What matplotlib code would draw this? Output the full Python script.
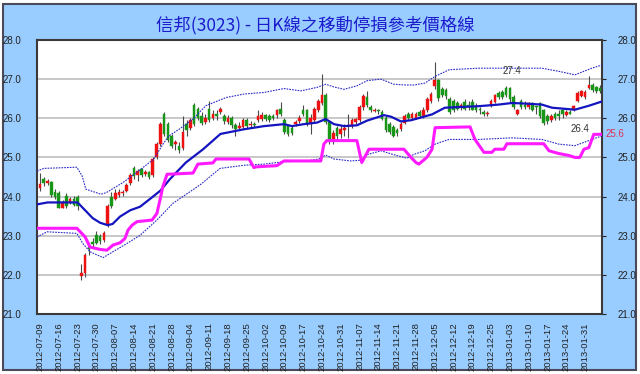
import numpy as np
import matplotlib
matplotlib.use('Agg')
import matplotlib.pyplot as plt
from matplotlib.patches import Rectangle

plt.rcParams['font.family'] = ['Liberation Sans', 'Noto Sans CJK TC', 'DejaVu Sans']

title = '信邦(3023) - 日K線之移動停損參考價格線'

date_labels = [
    '2012-07-09', '2012-07-16', '2012-07-23', '2012-07-30', '2012-08-07',
    '2012-08-14', '2012-08-21', '2012-08-28', '2012-09-04', '2012-09-11',
    '2012-09-18', '2012-09-25', '2012-10-02', '2012-10-09', '2012-10-17',
    '2012-10-24', '2012-10-31', '2012-11-07', '2012-11-14', '2012-11-21',
    '2012-11-28', '2012-12-05', '2012-12-12', '2012-12-19', '2012-12-25',
    '2013-01-03', '2013-01-10', '2013-01-17', '2013-01-24', '2013-01-31',
]

# daily candles (one per trading day, labels every 5 days)
opens = [
    24.22, 24.45, 24.35, 24.38, 24.12, 24.10, 23.72, 24.02, 23.85, 23.95,
    24.00, 21.98, 22.05, 22.72, 22.85, 23.02, 22.98, 22.88, 23.30, 23.98,
    23.95, 24.05, 24.10, 24.15, 24.35, 24.72, 24.55, 24.70, 24.58, 24.62,
    24.55, 25.00, 25.35, 26.10, 25.85, 25.55, 25.35, 25.30, 25.25, 25.85,
    25.75, 26.35, 26.25, 26.05, 25.90, 26.25, 26.00, 26.10, 26.15, 26.05,
    25.90, 26.00, 25.82, 25.75, 25.78, 25.95, 25.82, 25.85, 25.95, 25.98,
    26.08, 26.05, 26.05, 26.08, 26.25, 25.95, 25.80, 25.75, 25.85, 25.92,
    26.20, 26.20, 25.85, 25.95, 26.20, 26.40, 26.60, 25.90, 25.42, 25.75,
    25.60, 25.70, 25.80, 25.80, 25.90, 25.95, 26.30, 26.55, 26.30, 26.18,
    26.20, 26.15, 26.00, 25.85, 25.78, 25.70, 25.72, 25.88, 26.12, 26.00,
    26.02, 26.15, 26.05, 26.20, 26.45, 26.82, 26.98, 26.75, 26.72, 26.50,
    26.45, 26.40, 26.28, 26.42, 26.35, 26.42, 26.30, 26.24, 26.15, 26.12,
    26.32, 26.42, 26.65, 26.68, 26.78, 26.78, 26.55, 26.12, 26.45, 26.35,
    26.30, 26.38, 26.30, 26.40, 26.20, 26.05, 25.95, 26.10, 26.12, 26.20,
    26.08, 26.15, 26.20, 26.45, 26.58, 26.55, 26.78, 26.85, 26.80, 26.78,
]
closes = [
    24.32, 24.35, 24.40, 24.05, 23.98, 23.72, 23.86, 23.75, 23.93, 23.78,
    23.75, 22.05, 22.50, 22.65, 22.78, 22.82, 22.86, 23.08, 23.75, 23.76,
    24.08, 24.12, 24.10, 24.30, 24.55, 24.52, 24.65, 24.55, 24.62, 24.50,
    24.95, 25.35, 25.85, 25.60, 25.45, 25.30, 25.40, 25.18, 25.65, 25.70,
    25.95, 25.85, 26.00, 25.88, 26.02, 25.95, 26.10, 26.05, 26.25, 25.92,
    26.02, 25.82, 25.72, 25.80, 25.95, 25.80, 25.85, 25.84, 26.05, 26.08,
    25.98, 25.95, 26.00, 26.22, 26.12, 25.65, 25.60, 25.62, 25.90, 26.02,
    26.12, 25.85, 26.00, 26.25, 26.45, 26.60, 25.90, 25.45, 25.62, 25.55,
    25.72, 25.75, 25.80, 25.95, 25.98, 26.30, 26.58, 26.35, 26.20, 26.22,
    26.18, 25.98, 25.70, 25.65, 25.55, 25.62, 25.85, 26.05, 26.02, 26.10,
    26.10, 26.05, 26.20, 26.50, 26.62, 26.97, 26.52, 26.60, 26.58, 26.15,
    26.20, 26.25, 26.35, 26.25, 26.28, 26.22, 26.20, 26.20, 26.10, 26.13,
    26.45, 26.60, 26.55, 26.55, 26.60, 26.48, 26.30, 26.20, 26.30, 26.30,
    26.38, 26.22, 26.28, 26.05, 25.88, 25.92, 26.05, 26.00, 26.05, 26.10,
    26.15, 26.12, 26.32, 26.65, 26.70, 26.68, 26.85, 26.72, 26.70, 26.70,
]
highs = [
    24.60, 24.50, 24.45, 24.40, 24.20, 24.15, 23.92, 24.08, 24.00, 24.02,
    24.05, 22.28, 22.55, 22.82, 22.95, 23.12, 23.05, 23.12, 23.80, 24.12,
    24.20, 24.20, 24.18, 24.35, 24.60, 24.78, 24.70, 24.72, 24.68, 24.66,
    25.00, 25.40, 25.90, 26.15, 25.90, 25.60, 25.45, 25.40, 26.05, 25.95,
    26.00, 26.40, 26.30, 26.15, 26.10, 26.45, 26.20, 26.20, 26.30, 26.10,
    26.08, 26.05, 25.88, 25.90, 26.00, 26.00, 25.92, 25.90, 26.20, 26.15,
    26.12, 26.10, 26.12, 26.25, 26.42, 26.00, 25.85, 25.80, 25.95, 26.08,
    26.35, 26.25, 26.10, 26.30, 26.50, 27.12, 26.65, 25.95, 25.70, 25.80,
    25.80, 25.85, 26.10, 26.00, 26.00, 26.35, 26.62, 26.70, 26.35, 26.26,
    26.24, 26.20, 26.05, 25.90, 25.82, 25.75, 25.90, 26.10, 26.15, 26.15,
    26.15, 26.20, 26.30, 26.55, 26.68, 27.45, 27.00, 26.80, 26.78, 26.55,
    26.50, 26.45, 26.40, 26.50, 26.45, 26.48, 26.38, 26.28, 26.20, 26.18,
    26.50, 26.62, 26.70, 26.72, 26.82, 26.80, 26.60, 26.25, 26.50, 26.45,
    26.42, 26.42, 26.32, 26.42, 26.25, 26.10, 26.10, 26.15, 26.20, 26.25,
    26.20, 26.20, 26.35, 26.70, 26.72, 26.72, 27.08, 26.90, 26.82, 26.85,
]
lows = [
    24.15, 24.28, 24.30, 24.00, 23.95, 23.70, 23.70, 23.70, 23.80, 23.75,
    23.65, 21.86, 21.95, 22.50, 22.70, 22.78, 22.80, 22.85, 23.22, 23.70,
    23.90, 23.98, 24.02, 24.12, 24.30, 24.45, 24.40, 24.50, 24.52, 24.45,
    24.50, 24.95, 25.30, 25.55, 25.40, 25.25, 25.20, 25.12, 25.20, 25.55,
    25.70, 25.80, 25.95, 25.82, 25.85, 25.90, 25.95, 25.95, 26.10, 25.85,
    25.85, 25.75, 25.55, 25.70, 25.72, 25.75, 25.75, 25.78, 25.90, 25.92,
    25.92, 25.90, 25.95, 26.02, 26.05, 25.60, 25.55, 25.58, 25.80, 25.88,
    26.05, 25.80, 25.60, 25.90, 26.15, 26.35, 25.85, 25.35, 25.35, 25.45,
    25.50, 25.55, 25.50, 25.75, 25.85, 25.90, 26.20, 26.30, 26.15, 26.15,
    26.12, 25.95, 25.65, 25.60, 25.52, 25.55, 25.68, 25.85, 25.95, 25.95,
    25.98, 26.00, 26.00, 26.15, 26.40, 26.75, 26.45, 26.55, 26.50, 26.10,
    26.15, 26.20, 26.20, 26.20, 26.22, 26.20, 26.15, 26.10, 26.05, 26.05,
    26.28, 26.38, 26.50, 26.50, 26.55, 26.42, 26.25, 26.08, 26.25, 26.25,
    26.25, 26.18, 26.10, 26.00, 25.82, 25.85, 25.90, 25.95, 25.95, 26.00,
    26.05, 26.10, 26.18, 26.42, 26.55, 26.50, 26.75, 26.68, 26.65, 26.65,
]

# moving average line (day index, price)
ma_x = [-0.8, 2, 10, 12, 14, 16, 18, 19.3, 21.3, 24, 26.6, 29.8, 32, 34.6, 38.8,
        43.4, 48, 54.3, 59.6, 64.9, 67, 70.2, 73.7, 76, 78.2, 80.9, 84.3, 87,
        91.5, 93.4, 96, 98.7, 104.3, 107.7, 116.8, 122, 125.5, 128.2, 133.5,
        136.2, 142.3, 146, 149.5]
ma_y = [23.80, 23.85, 23.85, 23.65, 23.45, 23.33, 23.27, 23.30, 23.49, 23.65, 23.74,
        23.98, 24.15, 24.45, 24.87, 25.21, 25.60, 25.72, 25.80, 25.85, 25.80, 25.85,
        25.89, 25.98, 25.85, 25.80, 25.82, 25.94, 26.08, 26.04, 25.92, 25.95, 26.10,
        26.27, 26.31, 26.35, 26.39, 26.38, 26.35, 26.27, 26.22, 26.32, 26.43]

# upper / lower envelope (dotted)
upper_x = [-0.8, 1, 9.8, 11.2, 12.2, 16.2, 17.6, 22.1, 26.3, 30.3, 32.7, 34.3, 37,
           40.7, 44.1, 49.5, 54.3, 59.6, 64.9, 69.4, 73.7, 76, 78.2, 80.9, 84.3, 87,
           90.7, 94.1, 97.3, 99.5, 102.4, 105.1, 108.8, 116.8, 125.5, 133.5, 138,
           142.3, 146.8, 149.5]
upper_y = [24.65, 24.72, 24.75, 24.53, 24.19, 24.06, 24.10, 24.36, 24.66, 24.96, 25.34,
           25.55, 25.72, 25.98, 26.32, 26.53, 26.62, 26.66, 26.76, 26.70, 26.79, 26.87,
           26.80, 26.74, 26.83, 26.96, 27.00, 26.87, 26.85, 26.85, 26.90, 27.07, 27.24,
           27.28, 27.28, 27.28, 27.20, 27.11, 27.28, 27.36]
lower_x = [-0.8, 1.9, 9.8, 11.4, 13.3, 16.8, 19.4, 23.1, 26.6, 31.1, 35.4, 42.6, 47.9,
           54.3, 59.6, 64.9, 71, 74.2, 76, 78.2, 82.7, 85.4, 87, 90.7, 94.1, 97.6,
           99.5, 102.4, 105.1, 108.8, 116.8, 125.5, 133.5, 138, 142.3, 146.8, 149.5]
lower_y = [22.97, 23.10, 23.06, 22.80, 22.59, 22.44, 22.59, 22.80, 23.01, 23.40, 23.83,
           24.30, 24.72, 24.80, 24.83, 24.89, 24.91, 24.96, 25.06, 24.96, 24.91, 24.93,
           25.07, 25.17, 25.07, 24.98, 25.08, 25.17, 25.34, 25.46, 25.46, 25.50, 25.46,
           25.34, 25.30, 25.46, 25.55]

# moving stop-loss reference line (magenta)
stop_x = [-0.8, 9.8, 12, 13.3, 16, 17.8, 19.4, 21.3, 22.6, 23.4, 24.5, 25.8, 29.8,
          31.1, 31.9, 32.7, 33.8, 40.7, 42, 46, 46.8, 55.6, 56.9, 57.5, 63, 64.9,
          74.7, 75.5, 76.3, 84.3, 85.6, 87.5, 96.8, 98.7, 100, 100.8, 102.9, 104.3,
          105.1, 114.4, 115.7, 118.1, 120.2, 121, 123.4, 124.2, 134, 135.4, 138,
          140.7, 142.3, 143.6, 144.7, 146, 147.3, 149.5]
stop_y = [23.19, 23.19, 22.97, 22.71, 22.65, 22.63, 22.76, 22.82, 22.93, 23.14, 23.27,
          23.36, 23.40, 23.57, 23.91, 24.26, 24.57, 24.60, 24.83, 24.86, 24.96, 24.96,
          24.74, 24.76, 24.79, 24.91, 24.91, 25.34, 25.43, 25.43, 24.87, 25.21, 25.21,
          25.00, 24.87, 24.83, 25.00, 25.21, 25.76, 25.78, 25.46, 25.13, 25.13, 25.21,
          25.21, 25.35, 25.35, 25.17, 25.10, 25.05, 25.00, 25.00, 25.21, 25.25, 25.59,
          25.59]

W, H = 640, 374
fig = plt.figure(figsize=(W / 100, H / 100), dpi=100)
fig.patch.set_facecolor('white')
fig.patches.append(Rectangle((3 / W, 4 / H), 633 / W, 366 / H, transform=fig.transFigure,
                             facecolor='#99ccff', edgecolor='#4a4a5a', lw=1.5, zorder=-10))

ax = fig.add_axes([37 / W, 60 / H, 565 / W, 274 / H])
ax.set_facecolor('white')

idx = np.arange(len(closes))
o = np.array(opens)
c = np.array(closes)
up = c >= o
body_lo = np.minimum(o, c)
body_h = np.maximum(np.abs(c - o), 0.025)
colors = np.where(up, '#ee1111', '#179617')

ax.vlines(idx, lows, highs, color='#4a4a4a', lw=0.8, zorder=3)
ax.bar(idx, body_h, bottom=body_lo, width=0.7, color=colors, edgecolor=colors,
       lw=0.3, zorder=4)

ax.plot(upper_x, upper_y, color='#2a2ac8', lw=0.8, ls=(0, (1.5, 1)), zorder=5)
ax.plot(lower_x, lower_y, color='#2a2ac8', lw=0.8, ls=(0, (1.5, 1)), zorder=5)
ax.plot(ma_x, ma_y, color='#1414c0', lw=1.6, zorder=6)
ax.plot(stop_x, stop_y, color='#ff1aff', lw=2.2, zorder=6)

ax.text(125.5, 27.22, '27.4', fontsize=7, color='#333333', ha='center', va='center', zorder=7)
ax.text(143.6, 25.73, '26.4', fontsize=7, color='#333333', ha='center', va='center', zorder=7)
ax.text(152.9, 25.6, '25.6', fontsize=7, color='#e0305a', ha='center', va='center',
        clip_on=False, zorder=7)

ax.set_xlim(-0.8, 149.5)
ax.set_ylim(21, 28)
yt = np.arange(21, 29)
ax.set_yticks(yt)
ax.set_yticklabels([f'{v:.1f}' for v in yt])
for v in yt[1:-1]:
    ax.axhline(v, color='#c4c4c4', lw=1.3, zorder=1)

ax.tick_params(axis='y', which='both', labelsize=7, colors='#222222', left=False,
               right=True, labelleft=True, labelright=True, length=3, pad=8)
ax.set_xticks(idx[::5])
ax.set_xticklabels(date_labels, rotation=90, fontsize=6.8, color='#222222')
ax.tick_params(axis='x', length=0, pad=6)

for s in ax.spines.values():
    s.set_color('#3a3a3a')
    s.set_linewidth(1.5)

fig.text(0.492, 0.933, title, fontsize=12.5, color='#1c1ccc', ha='center', va='center',
         family=['Noto Sans CJK TC', 'DejaVu Sans'])

fig.savefig('out.png', dpi=100, facecolor=fig.get_facecolor())
